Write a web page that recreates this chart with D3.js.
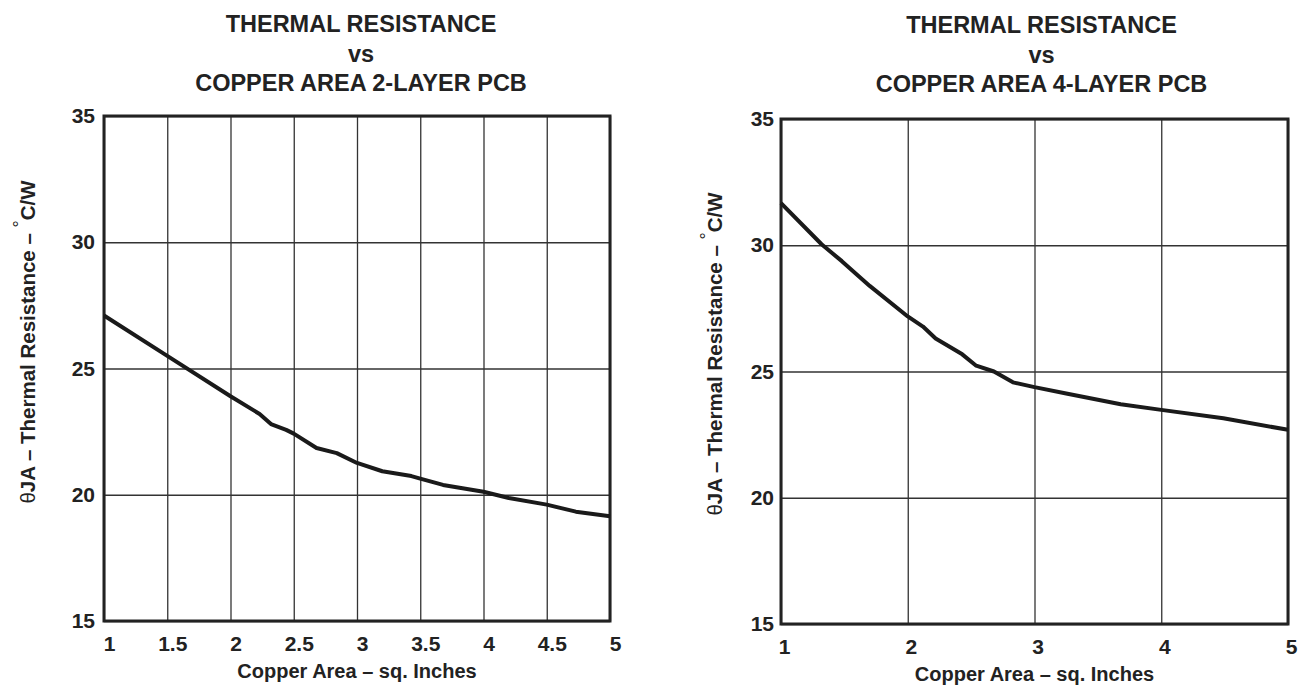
<!DOCTYPE html>
<html>
<head>
<meta charset="utf-8">
<script src="https://cdn.jsdelivr.net/npm/d3@7"></script>
<style>
  body { margin: 0; background: #fff; }
  svg { display: block; font-family: 'Liberation Sans', Arial, sans-serif; }
  .tick text { font-size: 21px; font-weight: bold; fill: #222; }
  .y-title { white-space: pre; }
</style>
</head>
<body>
<div class="chart"></div>
<script>
// copper area (sq. inches) vs thermal resistance (degC/W)
const area2 = [1, 1.5, 2, 2.23, 2.32, 2.44, 2.5, 2.68, 2.84, 3, 3.2, 3.43, 3.5, 3.68, 4, 4.2, 4.5, 4.73, 5];
const theta2 = [27.1, 25.5, 23.9, 23.2, 22.8, 22.57, 22.42, 21.85, 21.65, 21.26, 20.93, 20.74, 20.64, 20.39, 20.12, 19.87, 19.61, 19.33, 19.15];

const area4 = [1, 1.32, 1.48, 1.7, 2, 2.12, 2.22, 2.43, 2.54, 2.68, 2.83, 3, 3.25, 3.68, 4, 4.49, 5];
const theta4 = [31.67, 30.04, 29.37, 28.39, 27.18, 26.78, 26.31, 25.68, 25.23, 25.0, 24.57, 24.38, 24.13, 23.7, 23.48, 23.15, 22.69];

const xTicks2 = [1, 1.5, 2, 2.5, 3, 3.5, 4, 4.5, 5];
const xTicks4 = [1, 2, 3, 4, 5];
const yTicks = [15, 20, 25, 30, 35];

const titleLines2 = ['THERMAL RESISTANCE', 'vs', 'COPPER AREA 2-LAYER PCB'];
const titleLines4 = ['THERMAL RESISTANCE', 'vs', 'COPPER AREA 4-LAYER PCB'];
const xLabel = 'Copper Area \u2013 sq. Inches';

const w = 1298;
const h = 685;

const svg = d3.select('.chart')
  .append('svg')
  .attr('width', w)
  .attr('height', h);

function drawPanel(opt) {
  const xScale = d3.scaleLinear()
    .domain([1, 5])
    .range([opt.left, opt.right]);
  const yScale = d3.scaleLinear()
    .domain([15, 35])
    .range([opt.bottom, opt.top]);

  const g = svg.append('g');

  // grid
  g.append('g')
    .attr('class', 'grid')
    .attr('transform', `translate(0, ${opt.bottom})`)
    .call(d3.axisBottom(xScale).tickValues(opt.xTicks).tickSize(-(opt.bottom - opt.top)).tickFormat(''))
    .call(s => s.select('.domain').remove())
    .selectAll('line')
    .attr('stroke', '#333')
    .attr('stroke-width', 1.3);

  g.append('g')
    .attr('class', 'grid')
    .attr('transform', `translate(${opt.left}, 0)`)
    .call(d3.axisLeft(yScale).tickValues(yTicks).tickSize(-(opt.right - opt.left)).tickFormat(''))
    .call(s => s.select('.domain').remove())
    .selectAll('line')
    .attr('stroke', '#333')
    .attr('stroke-width', 1.3);

  // tick labels
  g.append('g')
    .attr('class', 'x-axis')
    .attr('transform', `translate(${opt.dx}, ${opt.bottom})`)
    .call(d3.axisBottom(xScale).tickValues(opt.xTicks).tickSize(0).tickPadding(15).tickFormat(d3.format('')))
    .call(s => s.select('.domain').remove());

  g.append('g')
    .attr('class', 'y-axis')
    .attr('transform', `translate(${opt.left}, 0)`)
    .call(d3.axisLeft(yScale).tickValues(yTicks).tickSize(0).tickPadding(opt.yPad))
    .call(s => s.select('.domain').remove());

  // frame
  g.append('rect')
    .attr('x', opt.left)
    .attr('y', opt.top)
    .attr('width', opt.right - opt.left)
    .attr('height', opt.bottom - opt.top)
    .attr('fill', 'none')
    .attr('stroke', '#222')
    .attr('stroke-width', 3);

  // curve
  const line = d3.line()
    .x((d, i) => xScale(opt.xs[i]))
    .y(d => yScale(d));

  g.append('path')
    .datum(opt.ys)
    .attr('d', line)
    .attr('fill', 'none')
    .attr('stroke', '#1a1a1a')
    .attr('stroke-width', 4)
    .attr('stroke-linejoin', 'round');

  // title
  const cx = (opt.left + opt.right) / 2;
  g.append('text')
    .attr('text-anchor', 'middle')
    .attr('font-size', 23.5)
    .attr('font-weight', 'bold')
    .attr('fill', '#222')
    .selectAll('tspan')
    .data(opt.title)
    .enter()
    .append('tspan')
    .attr('x', cx + opt.titleDx)
    .attr('y', (d, i) => opt.titleY + i * 29.5)
    .text(d => d);

  // x label
  g.append('text')
    .attr('x', cx)
    .attr('y', opt.bottom + 57)
    .attr('text-anchor', 'middle')
    .attr('font-size', 20)
    .attr('font-weight', 'bold')
    .attr('fill', '#222')
    .text(xLabel);

  // y label
  const yl = g.append('text')
    .attr('class', 'y-title')
    .attr('transform', `translate(${opt.yLabelX}, ${opt.yLabelY}) rotate(-90)`)
    .attr('text-anchor', 'middle')
    .attr('dominant-baseline', 'central')
    .attr('font-size', 20.5)
    .attr('font-weight', 'bold')
    .attr('fill', '#222');
  yl.append('tspan').attr('font-weight', 'normal').text('\u03b8');
  yl.append('tspan').text('JA \u2013 Thermal Resistance \u2013 ');
  yl.append('tspan').attr('font-weight', 'normal').attr('font-size', 18).attr('dy', -7).text('\u00b0');
  yl.append('tspan').attr('dy', 7).text('C/W');
}

drawPanel({
  left: 104, right: 610, top: 116, bottom: 621,
  xs: area2, ys: theta2, xTicks: xTicks2, dx: 5, yPad: 9,
  title: titleLines2, titleY: 32, titleDx: 4,
  yLabelX: 27, yLabelY: 342
});

drawPanel({
  left: 781, right: 1288, top: 119, bottom: 624,
  xs: area4, ys: theta4, xTicks: xTicks4, dx: 3, yPad: 7,
  title: titleLines4, titleY: 33, titleDx: 7,
  yLabelX: 714, yLabelY: 354
});
</script>
</body>
</html>
